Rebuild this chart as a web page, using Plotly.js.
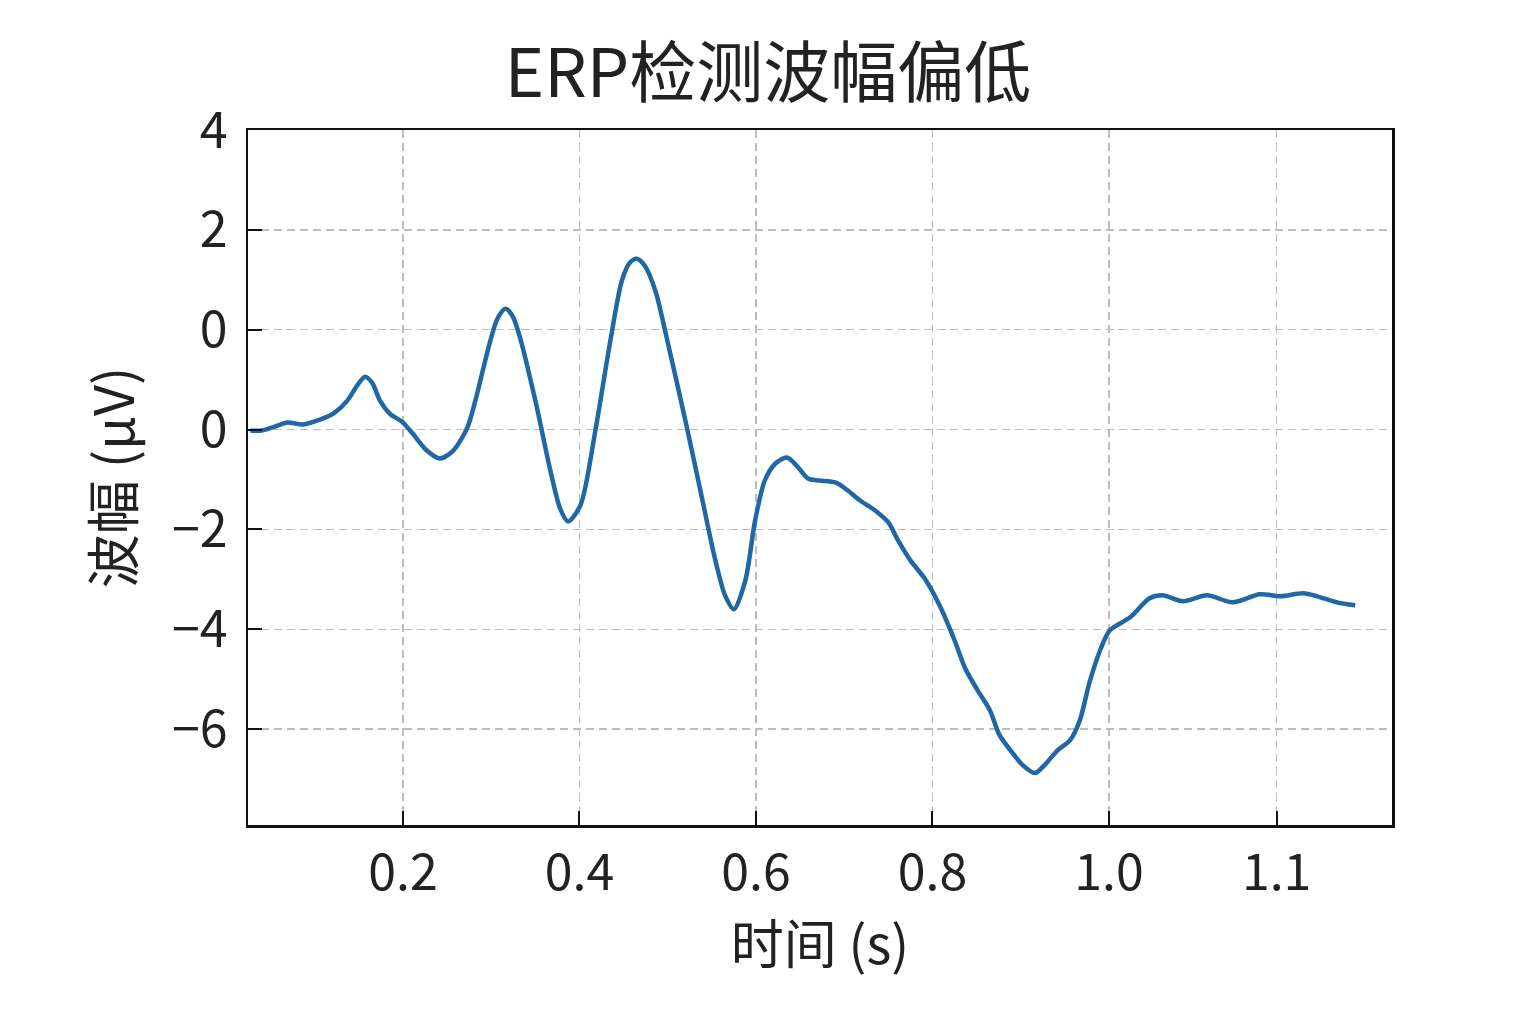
<!DOCTYPE html>
<html>
<head>
<meta charset="utf-8">
<script src="https://cdn.plot.ly/plotly-3.0.1.min.js"></script>
<style>html,body{margin:0;padding:0;background:#fff;}#chart{width:1536px;height:1024px;}</style>
</head>
<body>
<div id="chart"></div>
<script>
const timeS = [0.027,0.040,0.055,0.069,0.087,0.106,0.121,0.137,0.148,0.157,0.165,0.174,0.185,0.200,0.211,0.227,0.242,0.257,0.273,0.282,0.299,0.307,0.316,0.324,0.332,0.350,0.367,0.378,0.387,0.401,0.418,0.435,0.448,0.457,0.465,0.474,0.486,0.497,0.520,0.537,0.554,0.565,0.575,0.588,0.599,0.610,0.622,0.635,0.646,0.659,0.672,0.690,0.704,0.718,0.735,0.750,0.761,0.775,0.791,0.808,0.825,0.837,0.851,0.865,0.876,0.890,0.901,0.916,0.927,0.942,0.956,0.967,0.978,0.990,1.001,1.024,1.046,1.061,1.084,1.111,1.140,1.171,1.194,1.220,1.236,1.258,1.279];
const amplitude = [-0.02,-0.02,0.06,0.14,0.10,0.20,0.32,0.58,0.88,1.06,0.94,0.58,0.32,0.14,-0.08,-0.42,-0.58,-0.42,0.04,0.58,1.78,2.22,2.42,2.28,1.88,0.58,-0.82,-1.58,-1.84,-1.52,-0.02,1.78,2.98,3.34,3.42,3.28,2.78,1.98,0.18,-1.22,-2.62,-3.32,-3.60,-3.02,-1.82,-1.02,-0.68,-0.56,-0.72,-0.98,-1.02,-1.06,-1.22,-1.42,-1.62,-1.86,-2.22,-2.62,-2.98,-3.52,-4.22,-4.78,-5.22,-5.62,-6.12,-6.46,-6.70,-6.88,-6.72,-6.42,-6.22,-5.82,-5.06,-4.42,-4.02,-3.76,-3.38,-3.32,-3.44,-3.32,-3.46,-3.30,-3.34,-3.28,-3.34,-3.46,-3.52];
const xTickVals = [0.2,0.4,0.6,0.8,1.0,1.19];
const xTickText = ["0.2","0.4","0.6","0.8","1.0","1.1"];
const yTickVals = [6,4,2,0,-2,-4,-6];
const yTickText = ["4","2","0","0","\u22122","\u22124","\u22126"];

const font = "Noto Sans CJK SC, Noto Sans, sans-serif";
const trace = {
  x: timeS, y: amplitude, type: 'scatter', mode: 'lines',
  line: {color: '#2166a5', width: 4.5, shape: 'spline', smoothing: 0.8},
  hoverinfo: 'skip'
};
const layout = {
  width: 1536, height: 1024,
  margin: {l: 248, r: 144, t: 130, b: 199},
  paper_bgcolor: '#fff', plot_bgcolor: '#fff',
  showlegend: false,
  font: {family: font, color: '#222'},
  title: {text: 'ERP检测波幅偏低', font: {family: font, size: 67, color: '#222'},
          xref: 'container', x: 0.5, xanchor: 'center', yref: 'container', y: 1 - 74/1024, yanchor: 'middle'},
  xaxis: {
    range: [0.0244, 1.3207], tickvals: xTickVals, ticktext: xTickText,
    ticks: 'inside', ticklen: 14, tickwidth: 2, tickcolor: '#111',
    showline: true, linewidth: 2.5, linecolor: '#111', mirror: true,
    showgrid: true, gridcolor: '#bdbdbd', gridwidth: 1.3, griddash: '8px,5px',
    zeroline: false, ticklabelstandoff: 2,
    tickfont: {family: font, size: 50, color: '#222'},
    title: {text: '时间 (s)', font: {family: font, size: 53, color: '#222'}, standoff: 12}
  },
  yaxis: {
    range: [-7.92, 6], tickvals: yTickVals, ticktext: yTickText,
    ticks: 'inside', ticklen: 14, tickwidth: 2, tickcolor: '#111',
    showline: true, linewidth: 2.5, linecolor: '#111', mirror: true,
    showgrid: true, gridcolor: '#bdbdbd', gridwidth: 1.3, griddash: '8px,5px',
    zeroline: false, ticklabelstandoff: 8,
    tickfont: {family: font, size: 50, color: '#222'},
    title: {text: '波幅 (μV)', font: {family: font, size: 54, color: '#222'}, standoff: 20}
  }
};
Plotly.newPlot('chart', [trace], layout, {displayModeBar: false, staticPlot: true});
</script>
</body>
</html>
